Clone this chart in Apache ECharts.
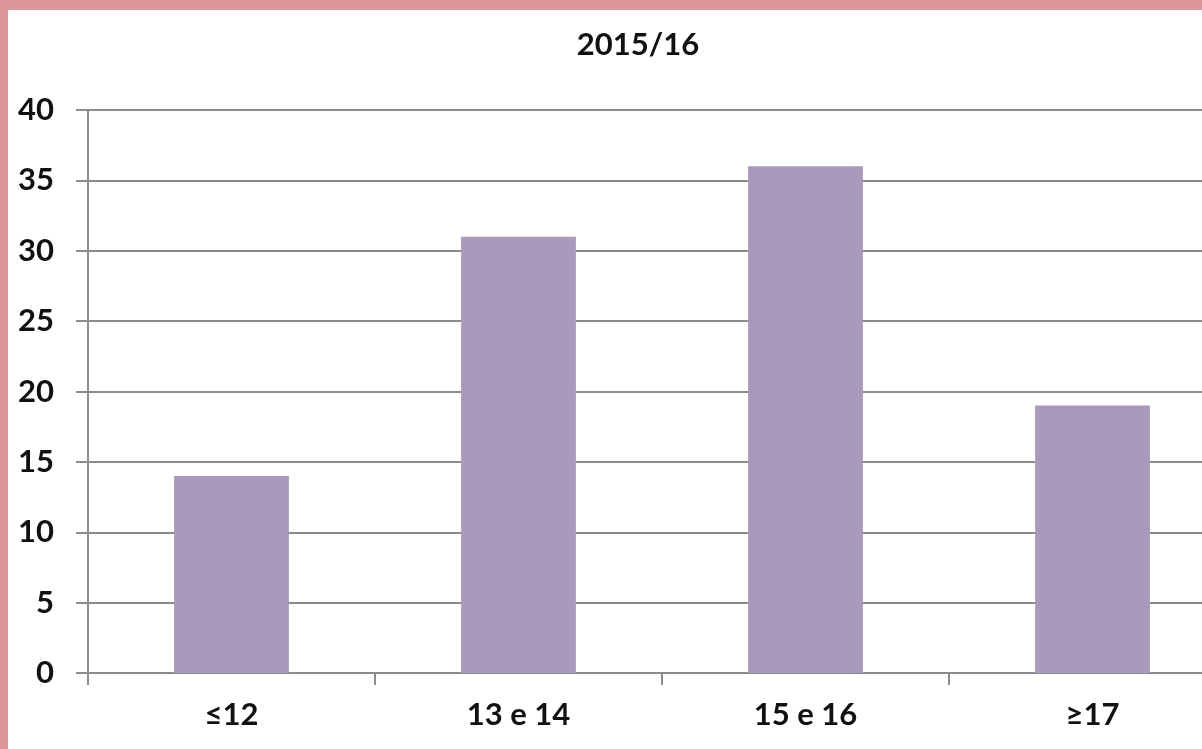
<!DOCTYPE html>
<html>
<head>
<meta charset="utf-8">
<title>2015/16</title>
<script src="https://cdn.jsdelivr.net/npm/echarts@6/dist/echarts.min.js"></script>
<style>
	html,body{margin:0;padding:0;background:#dc9698;width:1202px;height:749px;overflow:hidden;}
	#main{position:absolute;left:8px;top:10px;width:1240px;height:739px;background:#fff;}
</style>
</head>
<body>
<div id="main"></div>
<script>
// dati
var titolo = '2015/16';
var categorie = ['≤12', '13 e 14', '15 e 16', '≥17'];
var valori = [14, 31, 36, 19];
var tickY = [0, 5, 10, 15, 20, 25, 30, 35, 40];

var myChart = echarts.init(document.getElementById('main'));
var font = 'Lato, "Open Sans", sans-serif';

var option = {
	animation: false,
	title: {
		text: titolo,
		left: 625,
		top: 14,
		textAlign: 'center',
		textStyle: { color: '#111', fontFamily: font, fontWeight: 'bold', fontSize: 31 }
	},
	grid: { left: 80, top: 100, width: 1148, bottom: 76 },
	xAxis: {
		type: 'category',
		data: categorie,
		boundaryGap: true,
		axisLine: { lineStyle: { color: '#8c8c8c', width: 2 } },
		axisTick: { show: true, length: 12, alignWithLabel: false, lineStyle: { color: '#8c8c8c', width: 2 } },
		axisLabel: { margin: 26, color: '#111', fontFamily: font, fontWeight: 'bold', fontSize: 31 }
	},
	yAxis: {
		type: 'value',
		min: tickY[0],
		max: tickY[tickY.length - 1],
		interval: 5,
		axisLine: { show: true, lineStyle: { color: '#8c8c8c', width: 2 } },
		axisTick: { show: true, length: 12, lineStyle: { color: '#8c8c8c', width: 2 } },
		axisLabel: { margin: 34, color: '#111', fontFamily: font, fontWeight: 'bold', fontSize: 31 },
		splitLine: { show: true, lineStyle: { color: '#8c8c8c', width: 2 } }
	},
	series: [{
		type: 'bar',
		data: valori,
		barWidth: '40%',
		itemStyle: { color: '#a899bd' }
	}]
};
myChart.setOption(option);
</script>
</body>
</html>
